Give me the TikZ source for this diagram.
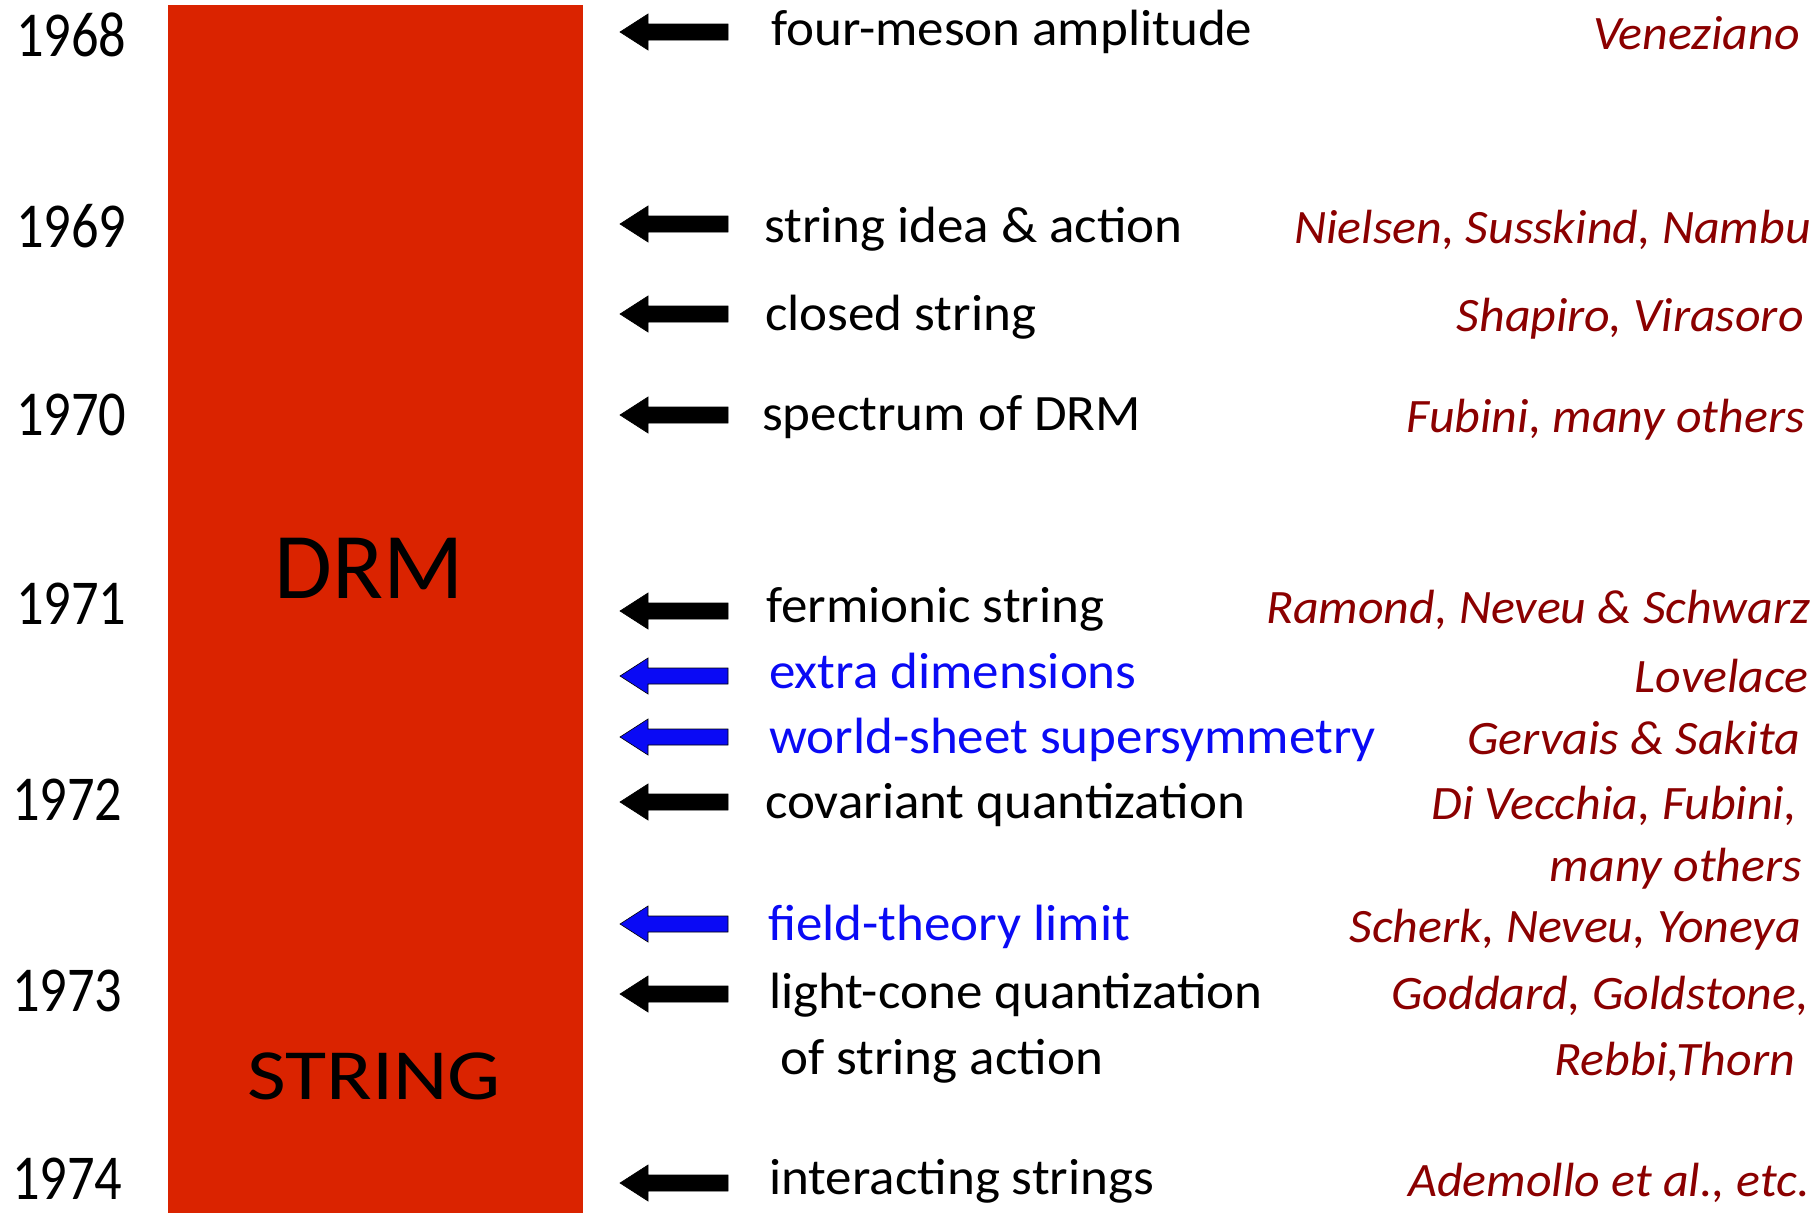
\documentclass[tikz,border=0pt]{standalone}
\usepackage{fontspec}
\setmainfont{Carlito}
\newfontfamily\yearfont[FakeStretch=0.85]{Carlito}
\newfontfamily\descfont[FakeStretch=1.04]{Carlito}
\newfontfamily\stringfont[FakeStretch=1.17]{Carlito}
\definecolor{barred}{RGB}{218,35,0}
\definecolor{authred}{RGB}{139,0,0}
\definecolor{arrblue}{RGB}{10,10,245}
\newcommand\timelinearrow[2]{%
  \filldraw[#2, draw=black, line width=0.6pt] (620,#1) -- ++(28,-18) -- ++(0,10) -- ++(80,0) -- ++(0,16) -- ++(-80,0) -- ++(0,10) -- cycle;}
\begin{document}
\begin{tikzpicture}[x=1pt,y=-1pt,
 desc/.style={anchor=west, inner sep=0pt, font=\descfont\fontsize{51}{58}\selectfont, text height=38pt, text depth=13pt},
 bluedesc/.style={desc, text=arrblue},
 auth/.style={anchor=east, inner sep=0pt, text=authred, font=\descfont\fontsize{48}{56}\selectfont\itshape, text height=36pt, text depth=12pt},
 yr/.style={anchor=west, inner sep=0pt, font=\yearfont\fontsize{64}{70}\selectfont},
 ]
\useasboundingbox (0,0) rectangle (1818,1213);
\fill[white] (0,0) rectangle (1818,1213);
% bar
\fill[barred] (168,5) rectangle (583,1213);
\node[inner sep=0pt, font=\fontsize{94}{104}\selectfont] (drm) at (369,568) {DRM};
\node[inner sep=0pt, font=\stringfont\fontsize{72}{80}\selectfont] (str) at (374,1076) {STRING};
% years
\node[yr] (y68) at (16,35) {1968};
\node[yr] (y69) at (16,226) {1969};
\node[yr] (y70) at (16,415) {1970};
\node[yr] (y71) at (16,604) {1971};
\node[yr] (y72) at (12,800) {1972};
\node[yr] (y73) at (12,991) {1973};
\node[yr] (y74) at (12,1179) {1974};
% arrows
\timelinearrow{32}{black}
\timelinearrow{224}{black}
\timelinearrow{314}{black}
\timelinearrow{415}{black}
\timelinearrow{611}{black}
\timelinearrow{676}{arrblue}
\timelinearrow{737}{arrblue}
\timelinearrow{802}{black}
\timelinearrow{924}{arrblue}
\timelinearrow{994}{black}
\timelinearrow{1183}{black}
% descriptions
\node[desc] (d1) at (771,33) {four-meson amplitude};
\node[desc] (d2) at (764,230) {string idea \& action};
\node[desc] (d3) at (765,318) {closed string};
\node[desc] (d4) at (762,418) {spectrum of DRM};
\node[desc] (d5) at (766,610) {fermionic string};
\node[bluedesc] (d6) at (769,676) {extra dimensions};
\node[bluedesc] (d7) at (769,741) {world-sheet supersymmetry};
\node[desc] (d8) at (765,806) {covariant quantization};
\node[bluedesc] (d9) at (768,928) {field-theory limit};
\node[desc] (d10) at (769,996) {light-cone quantization};
\node[desc] (d11) at (780,1062) {of string action};
\node[desc] (d12) at (769,1182) {interacting strings};
% authors
\node[auth] (a1) at (1800,37) {Veneziano};
\node[auth] (a2) at (1811,231) {Nielsen, Susskind, Nambu};
\node[auth] (a3) at (1804,319) {Shapiro, Virasoro};
\node[auth] (a4) at (1805,420) {Fubini, many others};
\node[auth] (a5) at (1810,611) {Ramond, Neveu \& Schwarz};
\node[auth] (a6) at (1809,680) {Lovelace};
\node[auth] (a7) at (1800,742) {Gervais \& Sakita};
\node[auth] (a8) at (1797,807) {Di Vecchia, Fubini,};
\node[auth] (a9) at (1802,869) {many others};
\node[auth] (a10) at (1801,930) {Scherk, Neveu, Yoneya};
\node[auth] (a11) at (1809,997) {Goddard, Goldstone,};
\node[auth] (a12) at (1795,1063) {Rebbi,Thorn};
\node[auth] (a13) at (1810,1184) {Ademollo et al., etc.};
\end{tikzpicture}
\end{document}
